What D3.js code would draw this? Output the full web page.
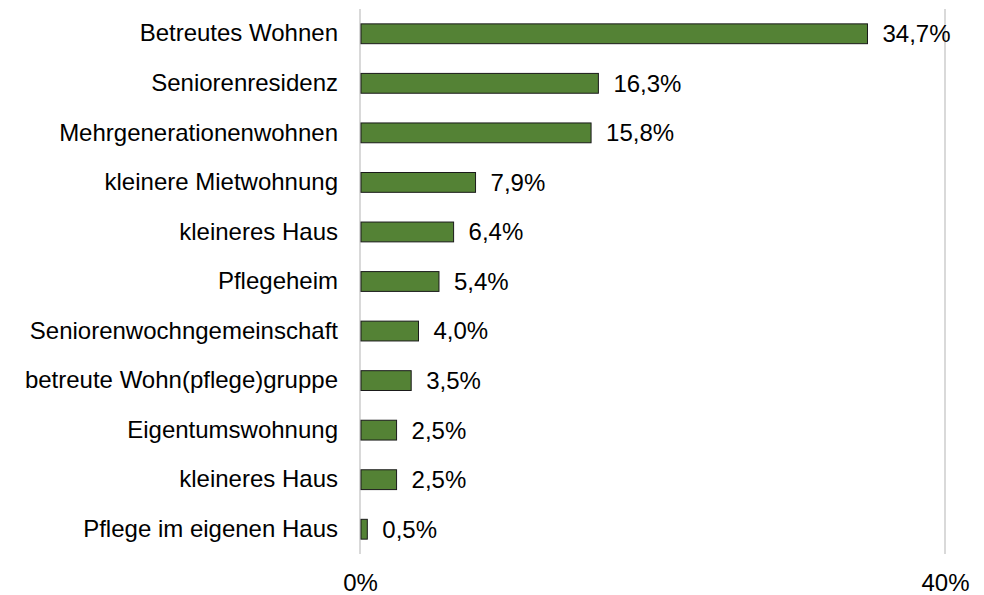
<!DOCTYPE html>
<html>
<head>
<meta charset="utf-8">
<script src="https://cdn.jsdelivr.net/npm/d3@7"></script>
<style>
  body { margin: 0; background: #fff; }
  text { font-family: "Liberation Sans", Arial, sans-serif; fill: #000; }
</style>
</head>
<body>
<svg id="chart"></svg>
<script>
const categories = [
  'Betreutes Wohnen', 'Seniorenresidenz', 'Mehrgenerationenwohnen', 'kleinere Mietwohnung',
  'kleineres Haus', 'Pflegeheim', 'Seniorenwochngemeinschaft', 'betreute Wohn(pflege)gruppe',
  'Eigentumswohnung', 'kleineres Haus ', 'Pflege im eigenen Haus'
];
const values = [34.7, 16.3, 15.8, 7.9, 6.4, 5.4, 4.0, 3.5, 2.5, 2.5, 0.5];
const xTicks = [0, 40];

const width = 984, height = 595;
const margin = { top: 9, right: 38, bottom: 41, left: 360 };
const w = width - margin.left - margin.right;
const h = height - margin.top - margin.bottom;
const fontSize = '24px';

const svg = d3.select('#chart').attr('width', width).attr('height', height);
const g = svg.append('g').attr('transform', `translate(${margin.left},${margin.top})`);

const x = d3.scaleLinear().domain([0, 40]).range([0, 585]);
const y = d3.scaleBand().domain(categories).range([0, h]).paddingInner(0.6).paddingOuter(0.3);

// gridlines
g.selectAll('.grid')
  .data(xTicks)
  .join('line')
  .attr('x1', d => x(d)).attr('x2', d => x(d))
  .attr('y1', 0).attr('y2', h)
  .attr('stroke', '#d9d9d9').attr('stroke-width', 2);

// bars
g.selectAll('.bar')
  .data(values)
  .join('rect')
  .attr('x', x(0) + 1)
  .attr('y', (d, i) => y(categories[i]))
  .attr('width', d => x(d) - 1)
  .attr('height', y.bandwidth())
  .attr('fill', '#548235')
  .attr('stroke', '#1a1a1a')
  .attr('stroke-width', 1);

// value labels
g.selectAll('.val')
  .data(values)
  .join('text')
  .attr('x', d => x(d) + 15)
  .attr('y', (d, i) => y(categories[i]) + y.bandwidth() / 2)
  .attr('dy', '0.35em')
  .style('font-size', fontSize)
  .text(d => d.toFixed(1).replace('.', ',') + '%');

// category axis
const yAxis = g.append('g')
  .call(d3.axisLeft(y).tickSize(0).tickPadding(22));
yAxis.select('.domain').remove();
yAxis.selectAll('text').style('font-size', fontSize).attr('fill', '#000');

// x axis
const xAxis = g.append('g')
  .attr('transform', `translate(0,${h})`)
  .call(d3.axisBottom(x).tickValues(xTicks).tickSize(0).tickPadding(20).tickFormat(d => d + '%'));
xAxis.select('.domain').remove();
xAxis.selectAll('text').style('font-size', fontSize).attr('fill', '#000');
</script>
</body>
</html>
